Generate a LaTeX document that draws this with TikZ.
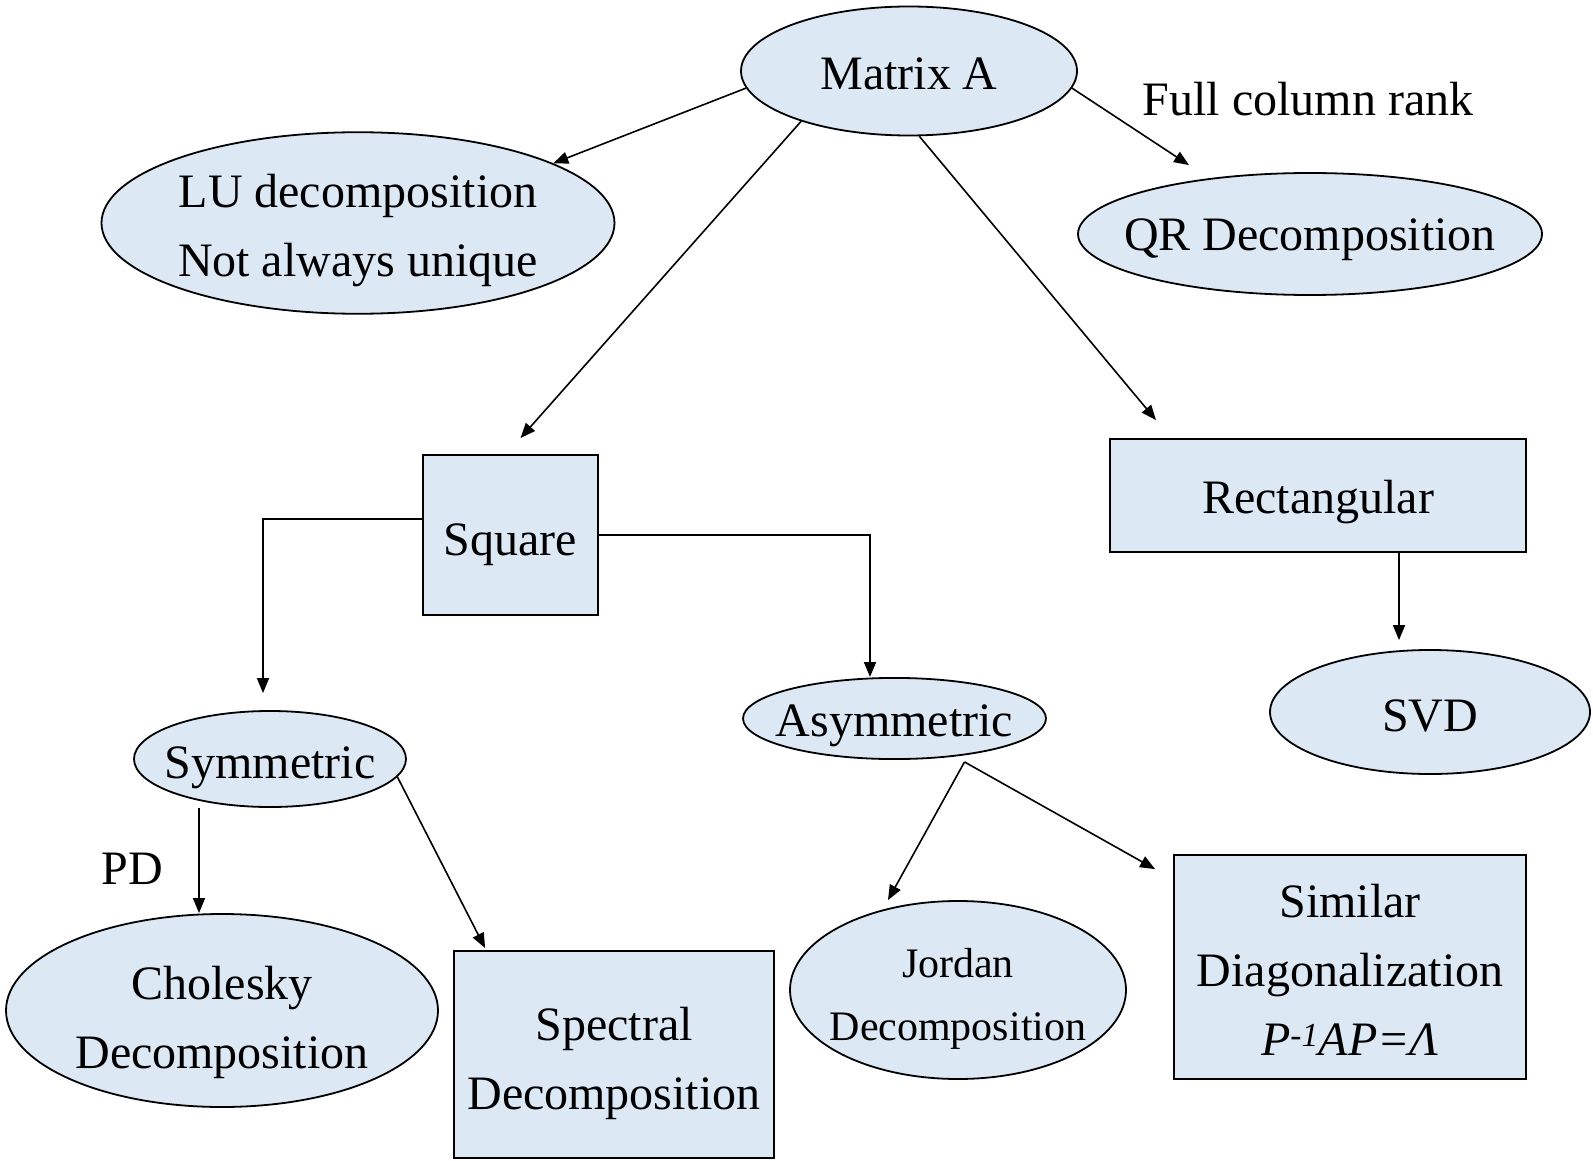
\documentclass[tikz,border=0pt]{standalone}
\usepackage{fontspec}
\setmainfont{Liberation Serif}
\usetikzlibrary{shapes.geometric,arrows.meta}
\definecolor{nodefill}{RGB}{221,232,245}
\newcommand{\zerow}[1]{\makebox[0pt]{#1}}
\newcommand{\lift}[1]{\rule{0pt}{#1pt}}
\begin{document}
\begin{tikzpicture}[x=1pt,y=-1pt,
  base/.style={draw=black, line width=1.8pt, fill=nodefill, inner sep=0pt, align=center, font=\fontsize{48}{69}\selectfont},
  ell/.style={base, ellipse},
  box/.style={base, rectangle},
  arr/.style={line width=1.6pt, -{Triangle[length=15pt,width=12pt]}},
  lbl/.style={font=\fontsize{48}{69}\selectfont, inner sep=0pt}]
\useasboundingbox (0,0) rectangle (1593,1161);
% nodes
\node[ell, minimum width=336, minimum height=129] (A) at (909,71) {\lift{37}\zerow{Matrix A}};
\node[ell, minimum width=513, minimum height=176] (LU) at (358,223) {\lift{49}\zerow{LU decomposition}\\\zerow{Not always unique}};
\node[ell, minimum width=464, minimum height=122] (QR) at (1310,234) {\lift{43}\zerow{QR Decomposition}};
\node[lbl] (fcr) at (1308,99) {Full column rank};
\node[box, minimum width=175, minimum height=160] (S) at (510.5,535) {\lift{51}Square};
\node[box, minimum width=416, minimum height=113] (R) at (1318,495.5) {\lift{47}Rectangular};
\node[ell, minimum width=320, minimum height=124] (SVD) at (1430,712) {\lift{39}\zerow{SVD}};
\node[ell, minimum width=272, minimum height=96] (Sym) at (270,759) {\lift{49}\zerow{Symmetric}};
\node[ell, minimum width=303, minimum height=79] (As) at (894.5,718.5) {\lift{47}\zerow{Asymmetric}};
\node[ell, minimum width=432, minimum height=193] (Ch) at (222,1010.5) {\lift{57}\zerow{Cholesky}\\\zerow{Decomposition}};
\node[box, minimum width=320, minimum height=207] (Sp) at (614,1054.5) {\lift{51}Spectral\\Decomposition};
\node[ell, minimum width=336, minimum height=178, font=\fontsize{42}{63}\selectfont] (J) at (958,990) {\lift{47}\zerow{Jordan}\\\zerow{Decomposition}};
\node[box, minimum width=352, minimum height=224] (Sim) at (1350,967) {\lift{39}Similar\\Diagonalization\\\textit{P\textsuperscript{-1}AP=Λ}};
\node[lbl] (pd) at (132,869) {PD};
% connectors
\draw[arr] (A.186) -- (LU.17);
\draw[arr] (A.205) -- ([shift={(10,-16)}]S.north);
\draw[arr] (A.279) -- ([shift={(-162,-18)}]R.north);
\draw[arr] (A.354) -- ([shift={(-121,-7)}]QR.north);
\draw[arr] ([shift={(0,-16)}]S.west) -| ([shift={(-7,-17)}]Sym.north);
\draw[arr] (S.east) -| ([shift={(-24.5,0)}]As.north);
\draw[arr] ([shift={(-71,0)}]Sym.south) -- ([shift={(-23,0)}]Ch.north);
\draw[arr] (Sym.352) -- ([shift={(32,-2)}]Sp.north west);
\draw[arr] ([shift={(70,2)}]As.south) -- ([shift={(-70,0)}]J.north);
\draw[arr] ([shift={(70,2)}]As.south) -- ([shift={(-18,15)}]Sim.north west);
\draw[arr] ([shift={(81,0)}]R.south) -- ([shift={(-31,-9)}]SVD.north);
\end{tikzpicture}
\end{document}
